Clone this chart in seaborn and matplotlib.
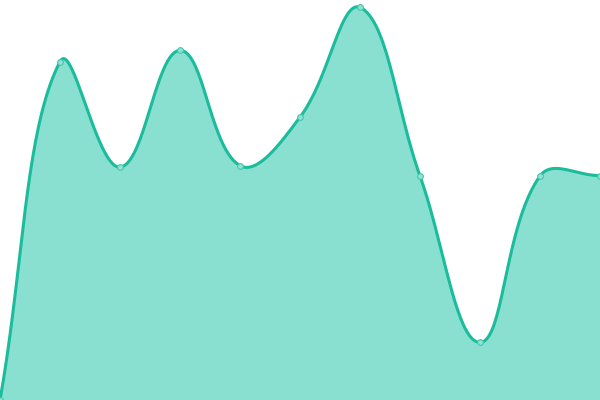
import numpy as np
import pandas as pd
import seaborn as sns
import matplotlib
matplotlib.use("Agg")
import matplotlib.pyplot as plt

# data
labels = list(range(11))
values = [0, 84.6, 58.2, 87.4, 58.6, 70.7, 98.2, 56.0, 14.4, 56.0, 56.1]

line_color = "#1abc9c"
fill_color = "#8ae0d0"

sns.set_theme(style="white")

fig = plt.figure(figsize=(6, 4), dpi=100)
ax = fig.add_axes([0, 0, 1, 1])
ax.set_xlim(0, 10)
ax.set_ylim(0, 100)
ax.axis("off")


def spline_points(ax, xs, ys, tension=0.4, n=40):
    # chart.js style spline, computed in pixel space
    pts = ax.transData.transform(np.column_stack([xs, ys]))
    x0, y0 = ax.transData.transform((0, 0))
    x1, y1 = ax.transData.transform((10, 100))
    cps = []
    for i in range(len(pts)):
        prev = pts[i - 1] if i > 0 else pts[i]
        cur = pts[i]
        nxt = pts[i + 1] if i < len(pts) - 1 else pts[i]
        d01 = np.hypot(*(cur - prev))
        d12 = np.hypot(*(nxt - cur))
        tot = d01 + d12
        s01 = d01 / tot if tot else 0
        s12 = d12 / tot if tot else 0
        cp_prev = cur - tension * s01 * (nxt - prev)
        cp_next = cur + tension * s12 * (nxt - prev)
        cp_prev = np.clip(cp_prev, [x0, y0], [x1, y1])
        cp_next = np.clip(cp_next, [x0, y0], [x1, y1])
        cps.append((cp_prev, cp_next))
    t = np.linspace(0, 1, n)[:, None]
    out = [pts[0][None, :]]
    for i in range(len(pts) - 1):
        p0, c1, c2, p1 = pts[i], cps[i][1], cps[i + 1][0], pts[i + 1]
        seg = ((1 - t) ** 3) * p0 + 3 * ((1 - t) ** 2) * t * c1 + 3 * (1 - t) * t ** 2 * c2 + t ** 3 * p1
        out.append(seg[1:])
    out = np.vstack(out)
    return ax.transData.inverted().transform(out)


curve = spline_points(ax, labels, values)
df_curve = pd.DataFrame({"x": curve[:, 0], "y": curve[:, 1]})
df_pts = pd.DataFrame({"x": labels, "y": values})

ax.fill_between(df_curve["x"], df_curve["y"], 0, color=fill_color, lw=0)
sns.lineplot(data=df_curve, x="x", y="y", sort=False, ax=ax, color=line_color,
             linewidth=2.2, estimator=None)
sns.scatterplot(data=df_pts, x="x", y="y", ax=ax, s=17, color="#90e2d3",
                edgecolor="#45c6ab", linewidth=0.8, zorder=5, clip_on=False)

ax.set_xlim(0, 10)
ax.set_ylim(0, 100)
ax.axis("off")
fig.savefig("out.png", dpi=100)
